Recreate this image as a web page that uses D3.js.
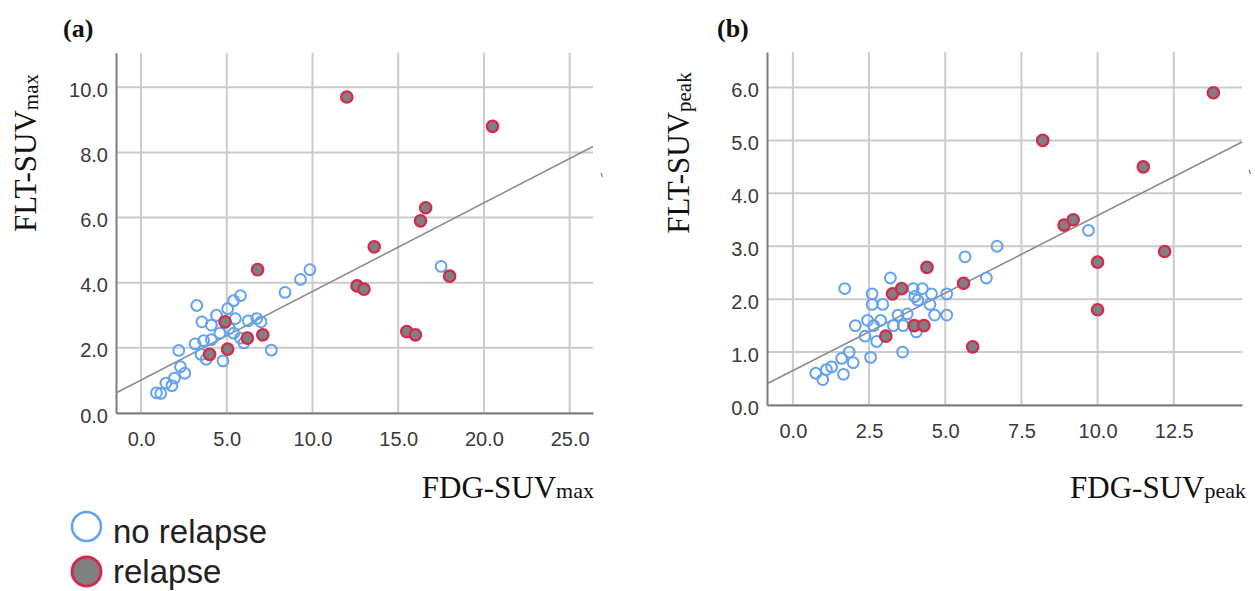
<!DOCTYPE html>
<html>
<head>
<meta charset="utf-8">
<script src="https://cdn.jsdelivr.net/npm/d3@7"></script>
<style>
  html, body { margin: 0; padding: 0; background: #fff; }
  svg { display: block; }
</style>
</head>
<body>
<svg id="chart" width="1255" height="591"></svg>
<script>
// ---- Panel (a): FDG-SUVmax vs FLT-SUVmax ----
const aNoRelapse = [
  [17.5, 4.5], [9.85, 4.4], [9.3, 4.1], [8.4, 3.7], [5.8, 3.6], [5.4, 3.45],
  [5.05, 3.2], [3.25, 3.3], [4.4, 3.0], [5.5, 2.9], [3.55, 2.8], [4.1, 2.7],
  [6.25, 2.83], [6.75, 2.9], [7.0, 2.8], [4.6, 2.45], [5.4, 2.45], [5.8, 2.3],
  [6.0, 2.15], [3.15, 2.12], [3.65, 2.22], [4.1, 2.25], [2.2, 1.92], [3.5, 1.8],
  [3.8, 1.65], [4.78, 1.6], [7.6, 1.93], [2.3, 1.42], [2.55, 1.22], [1.95, 1.07],
  [1.45, 0.92], [1.8, 0.84], [0.9, 0.62], [1.15, 0.6], [5.15, 2.6]
];
const aRelapse = [
  [12.0, 9.7], [20.5, 8.8], [16.6, 6.3], [16.3, 5.9], [13.6, 5.1], [6.8, 4.4],
  [12.6, 3.9], [13.0, 3.8], [18.0, 4.2], [15.5, 2.5], [16.0, 2.4], [4.9, 2.8],
  [6.2, 2.3], [7.1, 2.4], [5.05, 1.96], [4.0, 1.8]
];
const aXTicks = [0, 5, 10, 15, 20, 25];
const aYTicks = [0, 2, 4, 6, 8, 10];
const aFit = [1.01, 0.272];          // intercept, slope

// ---- Panel (b): FDG-SUVpeak vs FLT-SUVpeak ----
const bNoRelapse = [
  [9.7, 3.3], [6.7, 3.0], [5.65, 2.8], [6.35, 2.4], [3.2, 2.4], [1.7, 2.2],
  [2.6, 2.1], [3.95, 2.2], [4.25, 2.2], [4.55, 2.1], [5.05, 2.1], [4.0, 2.05],
  [4.1, 1.98], [2.6, 1.9], [2.95, 1.9], [4.5, 1.9], [3.45, 1.7], [3.75, 1.72],
  [4.65, 1.7], [5.05, 1.7], [2.05, 1.5], [2.45, 1.6], [2.65, 1.5], [2.88, 1.6],
  [3.3, 1.5], [3.62, 1.5], [2.37, 1.3], [2.75, 1.2], [4.05, 1.38], [3.6, 1.0],
  [2.55, 0.9], [1.85, 1.0], [1.98, 0.8], [1.6, 0.88], [1.66, 0.58], [1.27, 0.72],
  [1.1, 0.67], [0.75, 0.6], [0.98, 0.48]
];
const bRelapse = [
  [13.8, 5.9], [8.2, 5.0], [11.5, 4.5], [8.9, 3.4], [9.2, 3.5], [12.2, 2.9],
  [10.0, 2.7], [10.0, 1.8], [4.4, 2.6], [5.6, 2.3], [3.27, 2.1], [3.57, 2.2],
  [3.98, 1.5], [4.3, 1.5], [3.05, 1.3], [5.9, 1.1]
];
const bXTicks = [0, 2.5, 5, 7.5, 10, 12.5];
const bYTicks = [0, 1, 2, 3, 4, 5, 6];
const bFit = [0.65, 0.293];

const legendItems = ["no relapse", "relapse"];

const svg = d3.select("#chart");
const fmt = d3.format(".1f");
const SERIF = "'Liberation Serif', 'Times New Roman', serif";
const SANS = "'Liberation Sans', Arial, sans-serif";

function drawPanel(cfg) {
  const { x, y, xTicks, yTicks, noRel, rel, fit, label, labelX, sub, yTitleX, xTitleRight } = cfg;
  const [x0, x1] = x.range();
  const [y0, y1] = y.range();
  const g = svg.append("g");

  // grid
  g.append("g").selectAll("line").data(xTicks).join("line")
    .attr("x1", d => x(d)).attr("x2", d => x(d))
    .attr("y1", y1).attr("y2", y0)
    .attr("stroke", "#cbcbcb").attr("stroke-width", 2);
  g.append("g").selectAll("line").data(yTicks).join("line")
    .attr("x1", x0).attr("x2", x1)
    .attr("y1", d => y(d)).attr("y2", d => y(d))
    .attr("stroke", "#cbcbcb").attr("stroke-width", 2);

  // axes
  const xAxis = d3.axisBottom(x).tickValues(xTicks).tickFormat(fmt).tickSize(0).tickPadding(19);
  const yAxis = d3.axisLeft(y).tickValues(yTicks).tickFormat(fmt).tickSize(0).tickPadding(8);
  const gx = g.append("g").attr("transform", `translate(0,${y0})`).call(xAxis);
  const gy = g.append("g").attr("transform", `translate(${x0},0)`).call(yAxis);
  [gx, gy].forEach(a => {
    a.select(".domain").attr("stroke", "#7d7d7d").attr("stroke-width", 2);
    a.selectAll("text").attr("fill", "#3a3a3a")
      .style("font-family", SANS).style("font-size", "20px");
  });
  gy.selectAll("text").attr("dy", "0.45em");

  // regression line
  const xd = x.domain();
  g.append("line")
    .attr("x1", x(xd[0])).attr("y1", y(fit[0] + fit[1] * xd[0]))
    .attr("x2", x(xd[1])).attr("y2", y(fit[0] + fit[1] * xd[1]))
    .attr("stroke", "#8c8c8c").attr("stroke-width", 1.6);

  // points
  g.append("g").selectAll("circle").data(noRel).join("circle")
    .attr("cx", d => x(d[0])).attr("cy", d => y(d[1])).attr("r", 5.4)
    .attr("fill", "none").attr("stroke", "#62a2ee").attr("stroke-width", 2);
  g.append("g").selectAll("circle").data(rel).join("circle")
    .attr("cx", d => x(d[0])).attr("cy", d => y(d[1])).attr("r", 5.7)
    .attr("fill", "#808080").attr("stroke", "#d5294f").attr("stroke-width", 2.3);

  // panel label
  svg.append("text").attr("x", labelX).attr("y", 37).text(label)
    .style("font-family", SERIF)
    .style("font-size", "26px").style("font-weight", "bold").attr("fill", "#111");

  // y title
  const yt = svg.append("text")
    .attr("transform", `translate(${yTitleX},153) rotate(-90)`)
    .attr("text-anchor", "middle")
    .style("font-family", SERIF)
    .style("font-size", "31px").attr("fill", "#111");
  yt.append("tspan").text("FLT-SUV");
  yt.append("tspan").text(sub).style("font-size", "21px").attr("dy", 2);

  // x title
  const xt = svg.append("text")
    .attr("x", xTitleRight).attr("y", 498).attr("text-anchor", "end")
    .style("font-family", SERIF)
    .style("font-size", "31px").attr("fill", "#111");
  xt.append("tspan").text("FDG-SUV");
  xt.append("tspan").text(sub).style("font-size", "22px");
}

drawPanel({
  x: d3.scaleLinear().domain([-1.46, 26.36]).range([116, 593]),
  y: d3.scaleLinear().domain([0, 11.06]).range([413, 52.7]),
  xTicks: aXTicks, yTicks: aYTicks, noRel: aNoRelapse, rel: aRelapse, fit: aFit,
  label: "(a)", labelX: 63, sub: "max", yTitleX: 36, xTitleRight: 594
});
drawPanel({
  x: d3.scaleLinear().domain([-0.85, 14.74]).range([767, 1242]),
  y: d3.scaleLinear().domain([0, 6.67]).range([405, 52]),
  xTicks: bXTicks, yTicks: bYTicks, noRel: bNoRelapse, rel: bRelapse, fit: bFit,
  label: "(b)", labelX: 717, sub: "peak", yTitleX: 689, xTitleRight: 1246
});

// small clipped marks at the right edge of each panel
[[601, 173], [1249, 170]].forEach(([px, py]) => {
  svg.append("line").attr("x1", px).attr("y1", py).attr("x2", px + 1.5).attr("y2", py + 4)
    .attr("stroke", "#777").attr("stroke-width", 1.2);
});

// legend
const lg = svg.append("g");
const legendRows = [
  { cy: 526.5, base: 543 },
  { cy: 571.5, base: 583 }
];
legendItems.forEach((name, i) => {
  const row = legendRows[i];
  lg.append("circle").attr("cx", 86.5).attr("cy", row.cy).attr("r", 14.5)
    .attr("fill", i === 0 ? "#fff" : "#808080")
    .attr("stroke", i === 0 ? "#62a2ee" : "#d5294f").attr("stroke-width", i === 0 ? 2.5 : 3);
  lg.append("text").attr("x", 113).attr("y", row.base).text(name)
    .style("font-family", SANS)
    .style("font-size", "33px").attr("fill", "#222");
});
</script>
</body>
</html>
